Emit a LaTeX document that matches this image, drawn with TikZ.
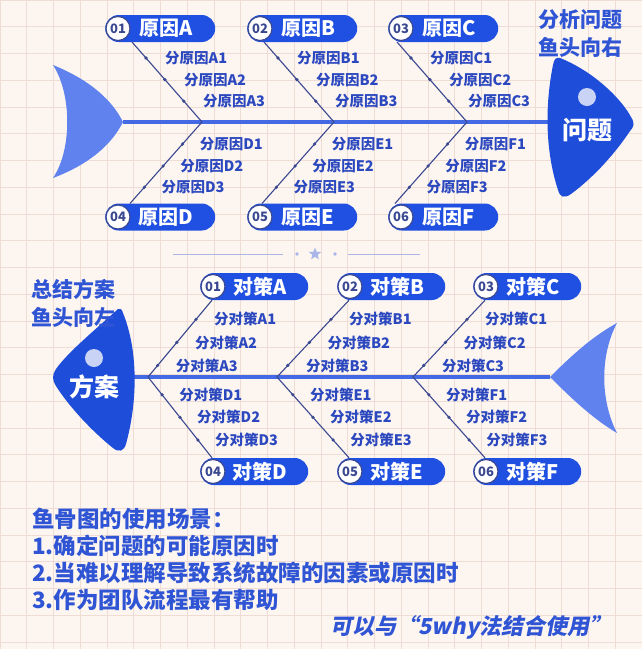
\documentclass[tikz,border=0pt]{standalone}
\usepackage{fontspec}
\setmainfont{Noto Sans CJK SC}
\newfontfamily\slantfont{Noto Sans CJK SC}[FakeSlant=0.2]
\usetikzlibrary{calc,positioning,shapes.geometric}

\definecolor{bgcol}{HTML}{FDF5F0}
\definecolor{gridcol}{HTML}{EEDCD5}
\definecolor{pillblue}{HTML}{2050E2}
\definecolor{headblue}{HTML}{1E4DDA}
\definecolor{spineblue}{HTML}{4469E4}
\definecolor{tailblue}{HTML}{6082EE}
\definecolor{bonecol}{HTML}{3A4890}
\definecolor{labcol}{HTML}{2B48BF}
\definecolor{titlecol}{HTML}{2F55D5}
\definecolor{dotlight}{HTML}{C9D3F6}
\definecolor{decocol}{HTML}{AAB6E8}

\tikzset{
  pill/.style={fill=pillblue, rounded corners=13.5pt, minimum width=110pt, minimum height=27pt, anchor=west, inner sep=0pt},
  badge/.style={circle, fill=white, draw=bonecol, line width=1.2pt, minimum size=24pt, inner sep=0pt, text=bonecol, font=\fontsize{13}{13}\selectfont\bfseries},
  pilltext/.style={text=white, inner sep=0pt, font=\fontsize{20}{20}\selectfont\bfseries},
  sublab/.style={anchor=west, text=labcol, inner sep=0pt, font=\fontsize{14.5}{14.5}\selectfont\bfseries},
  bone/.style={draw=bonecol, line width=1.1pt},
  spine/.style={draw=spineblue, line width=4pt},
  bonedot/.style={circle, fill=bonecol, minimum size=3.6pt, inner sep=0pt},
  headtext/.style={text=white, inner sep=0pt, font=\fontsize{25}{25}\selectfont\bfseries},
  titletext/.style={text=titlecol, align=center, inner sep=0pt, font=\fontsize{21}{28}\selectfont\bfseries},
  notetext/.style={anchor=west, text=titlecol, inner sep=0pt, font=\fontsize{22.5}{22.5}\selectfont\bfseries}
}

\begin{document}
\begin{tikzpicture}[x=1pt,y=-1pt]
	\fill[bgcol] (0,0) rectangle (642,649);
	\useasboundingbox (0,0) rectangle (642,649);
	\foreach \g in {0,...,24} \draw[gridcol, line width=0.7pt] (\g*26.75,0) -- (\g*26.75,649);
	\foreach \g in {0,...,24} \draw[gridcol, line width=0.7pt] (0,\g*26.75) -- (642,\g*26.75);

	\coordinate (tailT) at (123,122);
	\coordinate (headT) at (556,122);
	\draw[spine] (tailT) -- (headT);
	\fill[tailblue] (53,65) .. controls (90,80) and (112,100) .. (tailT) .. controls (112,144) and (90,164) .. (53,178) .. controls (72,150) and (72,94) .. cycle;
	\fill[headblue] (560,58) .. controls (595,72) and (622,100) .. (631,117) .. controls (635,123) and (634,127) .. (630,131) .. controls (612,158) and (590,180) .. (571,194) .. controls (564,199) and (560,197) .. (558,190) .. controls (545,150) and (545,105) .. (553,65) .. controls (554,59) and (556,57) .. cycle;
	\fill[dotlight] (587,97) circle (9pt);
	\node[headtext] (wenti) at (587,130) {问题};
	\node[titletext] (fxT) at (580,34) {分析问题\\鱼头向右};

	\foreach \x/\b/\n/\l in {105/132/01/A,247/264/02/B,388/397/03/C} {
		\node[pill] (p\l) at (\x,28.5) {};
		\node[badge] (n\l) at ($(p\l.west)+(13,0)$) {\n};
		\node[pilltext] (t\l) at ($(p\l.west)+(61,0)$) {原因\l};
		\coordinate (s\l) at (\b,42);
		\coordinate (j\l) at (\b+70,122);
		\draw[bone] (s\l) -- (j\l);
		\foreach \t/\k in {0.2/1,0.47/2,0.74/3} {
			\node[bonedot] (d\l\k) at ($(s\l)!\t!(j\l)$) {};
			\node[sublab, xshift=19pt] (a\l\k) at ($(s\l)!\t!(j\l)$) {分原因\l\k};
		}
	}
	\foreach \x/\b/\n/\l in {105/130/04/D,247/262/05/E,388/395/06/F} {
		\node[pill] (p\l) at (\x,217) {};
		\node[badge] (n\l) at ($(p\l.west)+(13,0)$) {\n};
		\node[pilltext] (t\l) at ($(p\l.west)+(61,0)$) {原因\l};
		\coordinate (s\l) at (\b,203.5);
		\coordinate (j\l) at (\b+72,122);
		\draw[bone] (s\l) -- (j\l);
		\foreach \t/\k in {0.73/1,0.46/2,0.2/3} {
			\node[bonedot] (d\l\k) at ($(s\l)!\t!(j\l)$) {};
			\node[sublab, xshift=17pt] (a\l\k) at ($(s\l)!\t!(j\l)$) {分原因\l\k};
		}
	}

	\draw[decocol, line width=1pt] (173,254) -- (283,254);
	\fill[decocol] (297,254) circle (1.8pt);
	\node[star, star points=5, star point ratio=2.3, fill=decocol, minimum size=13pt, inner sep=0pt] (star) at (315,254) {};
	\fill[decocol] (335,254) circle (1.8pt);
	\draw[decocol, line width=1pt] (348,254) -- (420,254);

	\coordinate (headB) at (133,377);
	\coordinate (tailB) at (550,377);
	\draw[spine] (headB) -- (tailB);
	\fill[tailblue] (tailB) .. controls (575,352) and (595,335) .. (617,323) .. controls (600,355) and (600,400) .. (617,433) .. controls (595,420) and (575,402) .. cycle;
	\fill[headblue] (118,309) .. controls (95,330) and (68,352) .. (56,369) .. controls (52,375) and (52,380) .. (56,386) .. controls (70,408) and (93,432) .. (113,448) .. controls (119,453) and (124,451) .. (126,444) .. controls (138,400) and (138,350) .. (123,313) .. controls (122,309) and (120,308) .. cycle;
	\fill[dotlight] (94,358) circle (9pt);
	\node[headtext] (fangan) at (94,387) {方案};
	\node[titletext] (fxB) at (73,303.5) {总结方案\\鱼头向左};

	\foreach \x/\j/\n/\l in {200/148/01/A,337/277/02/B,473/413/03/C} {
		\node[pill, minimum width=108pt] (q\l) at (\x,286.5) {};
		\node[badge] (m\l) at ($(q\l.west)+(13,0)$) {\n};
		\node[pilltext] (u\l) at ($(q\l.west)+(60,0)$) {对策\l};
		\coordinate (e\l) at ($(q\l.south west)+(12,0)$);
		\coordinate (k\l) at (\j,377);
		\draw[bone] (k\l) -- (e\l);
		\foreach \t/\k in {0.15/3,0.45/2,0.75/1} {
			\node[bonedot] (f\l\k) at ($(k\l)!\t!(e\l)$) {};
			\node[sublab, xshift=18pt] (b\l\k) at ($(k\l)!\t!(e\l)$) {分对策\l\k};
		}
	}
	\foreach \x/\j/\n/\l in {200/148/04/D,337/277/05/E,473/413/06/F} {
		\node[pill, minimum width=108pt] (q\l) at (\x,471.5) {};
		\node[badge] (m\l) at ($(q\l.west)+(13,0)$) {\n};
		\node[pilltext] (u\l) at ($(q\l.west)+(60,0)$) {对策\l};
		\coordinate (e\l) at ($(q\l.north west)+(12,0)$);
		\coordinate (k\l) at (\j,377);
		\draw[bone] (k\l) -- (e\l);
		\foreach \t/\k in {0.22/1,0.5/2,0.78/3} {
			\node[bonedot] (f\l\k) at ($(k\l)!\t!(e\l)$) {};
			\node[sublab, xshift=17pt] (b\l\k) at ($(k\l)!\t!(e\l)$) {分对策\l\k};
		}
	}

	\node[notetext] (use0) at (32,519) {鱼骨图的使用场景：};
	\node[notetext] (use1) at (32,546) {1.确定问题的可能原因时};
	\node[notetext] (use2) at (32,573) {2.当难以理解导致系统故障的因素或原因时};
	\node[notetext] (use3) at (32,600) {3.作为团队流程最有帮助};
	\node[text=titlecol, inner sep=0pt, font=\slantfont\bfseries\fontsize{22}{22}\selectfont] (tip) at (471,627) {可以与“5why法结合使用”};
\end{tikzpicture}
\end{document}
